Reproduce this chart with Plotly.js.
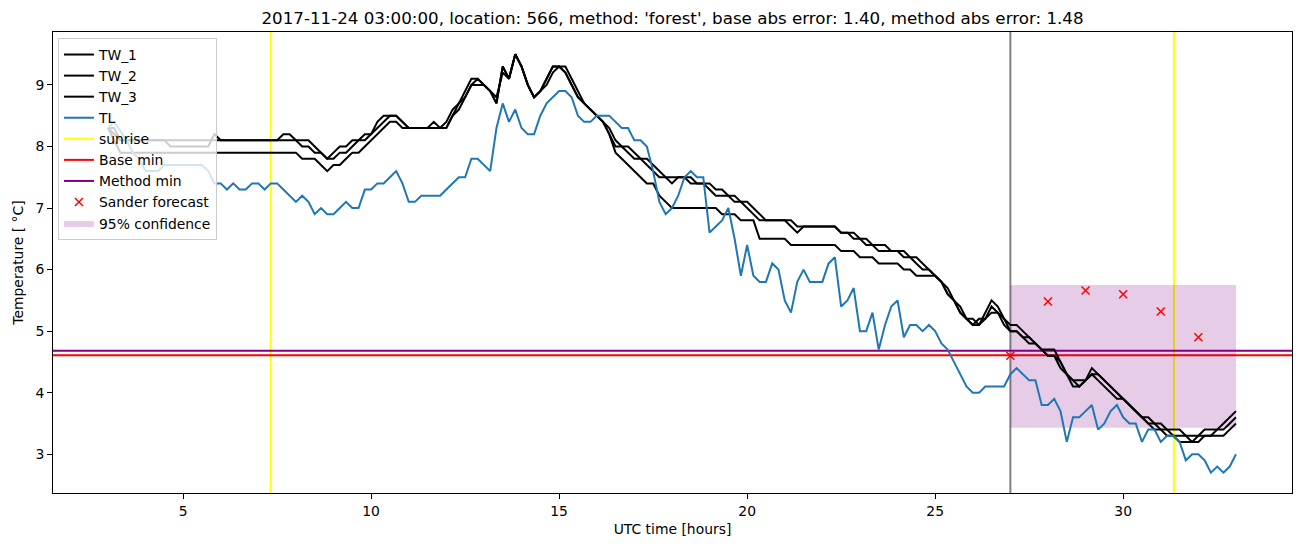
<!DOCTYPE html>
<html>
<head>
<meta charset="utf-8">
<script src="https://cdn.plot.ly/plotly-3.0.1.min.js"></script>
<style>html,body{margin:0;padding:0;background:#fff;}#chart{width:1302px;height:547px;}</style>
</head>
<body>
<div id="chart"></div>
<script>
// ---- data ----
const startHour = 3;          // first sample, UTC hours
const stepHours = 1 / 6;      // 10-minute samples

const TL = [
8.3,8.4,8.25,8.1,7.9,7.8,7.6,7.6,7.6,7.7,
7.7,7.7,7.7,7.7,7.7,7.7,7.6,7.4,7.4,7.3,
7.4,7.3,7.3,7.4,7.4,7.3,7.4,7.4,7.3,7.2,
7.1,7.2,7.1,6.9,7.0,6.9,6.9,7.0,7.1,7.0,
7.0,7.3,7.3,7.4,7.4,7.5,7.6,7.4,7.1,7.1,
7.2,7.2,7.2,7.2,7.3,7.4,7.5,7.5,7.8,7.8,
7.7,7.6,8.3,8.7,8.4,8.6,8.3,8.2,8.2,8.5,
8.7,8.8,8.9,8.9,8.8,8.5,8.4,8.4,8.5,8.5,
8.5,8.4,8.3,8.3,8.1,8.1,8.0,7.6,7.1,6.9,
7.0,7.2,7.5,7.6,7.5,7.5,6.6,6.7,6.8,7.0,
6.5,5.9,6.4,5.9,5.8,5.8,6.1,6.0,5.5,5.3,
5.8,6.0,5.8,5.8,5.8,6.1,6.2,5.4,5.5,5.7,
5.0,5.0,5.3,4.7,5.1,5.4,5.5,4.9,5.1,5.1,
5.0,5.1,5.0,4.8,4.7,4.5,4.3,4.1,4.0,4.0,
4.1,4.1,4.1,4.1,4.3,4.4,4.3,4.2,4.2,3.8,
3.8,3.9,3.7,3.2,3.6,3.6,3.7,3.8,3.4,3.5,
3.7,3.8,3.6,3.5,3.5,3.2,3.4,3.4,3.2,3.3,
3.3,3.2,2.9,3.0,3.0,2.9,2.7,2.8,2.7,2.8,
3.0];

const TW_1 = [
8.3,8.3,8.1,8.1,8.1,8.1,8.1,8.1,8.1,8.1,
8.1,8.1,8.1,8.1,8.1,8.1,8.1,8.1,8.1,8.1,
8.1,8.1,8.1,8.1,8.1,8.1,8.1,8.1,8.2,8.2,
8.1,8.1,8.1,8.0,7.9,7.8,7.9,8.0,8.0,8.1,
8.1,8.2,8.2,8.4,8.5,8.5,8.5,8.4,8.3,8.3,
8.3,8.3,8.3,8.3,8.4,8.6,8.7,8.9,9.1,9.1,
9.0,8.9,8.7,9.3,9.1,9.5,9.3,9.0,8.8,8.9,
9.1,9.3,9.3,9.2,9.0,8.8,8.7,8.6,8.5,8.4,
8.2,8.0,8.0,7.9,7.8,7.8,7.7,7.6,7.5,7.5,
7.4,7.5,7.5,7.4,7.4,7.4,7.3,7.2,7.2,7.2,
7.1,7.1,7.0,6.9,6.8,6.8,6.8,6.8,6.8,6.7,
6.6,6.7,6.7,6.7,6.7,6.7,6.7,6.6,6.6,6.5,
6.5,6.4,6.4,6.3,6.3,6.3,6.3,6.2,6.2,6.1,
6.0,6.0,5.9,5.8,5.6,5.5,5.3,5.2,5.1,5.1,
5.3,5.5,5.4,5.2,5.1,5.1,5.0,4.9,4.8,4.7,
4.7,4.7,4.5,4.3,4.2,4.2,4.2,4.4,4.3,4.2,
4.1,4.0,3.9,3.8,3.7,3.6,3.5,3.5,3.4,3.4,
3.4,3.4,3.3,3.3,3.3,3.4,3.4,3.4,3.5,3.6,
3.7];

const TW_2 = [
8.3,8.2,8.1,8.1,8.1,8.1,8.1,8.1,8.1,8.1,
8.0,8.0,8.0,8.0,8.0,8.0,8.0,8.2,8.1,8.1,
8.1,8.1,8.1,8.1,8.1,8.1,8.1,8.1,8.1,8.1,
8.1,8.0,8.0,7.9,7.9,7.8,7.8,7.9,7.9,8.0,
8.1,8.1,8.2,8.3,8.4,8.5,8.5,8.4,8.3,8.3,
8.3,8.3,8.4,8.3,8.3,8.5,8.7,8.8,9.0,9.1,
9.0,8.9,8.8,9.2,9.1,9.5,9.3,9.0,8.8,8.9,
9.1,9.3,9.3,9.3,9.1,8.9,8.7,8.6,8.5,8.4,
8.3,8.1,8.0,8.0,7.9,7.8,7.8,7.7,7.6,7.5,
7.5,7.5,7.5,7.5,7.4,7.4,7.4,7.3,7.3,7.2,
7.2,7.1,7.1,7.0,6.9,6.8,6.8,6.8,6.8,6.8,
6.7,6.7,6.7,6.7,6.7,6.7,6.7,6.6,6.6,6.6,
6.5,6.5,6.4,6.4,6.4,6.3,6.3,6.3,6.2,6.2,
6.1,6.0,5.9,5.8,5.7,5.5,5.4,5.2,5.2,5.1,
5.2,5.4,5.3,5.2,5.0,5.0,4.9,4.9,4.8,4.7,
4.6,4.6,4.5,4.3,4.2,4.1,4.2,4.3,4.3,4.2,
4.1,4.0,3.9,3.8,3.7,3.6,3.6,3.5,3.5,3.4,
3.3,3.3,3.3,3.2,3.2,3.3,3.3,3.4,3.4,3.5,
3.6];

const TW_3 = [
8.3,8.1,7.9,7.9,7.9,7.9,7.9,7.9,7.9,7.9,
7.9,7.9,7.9,7.9,7.9,7.9,7.9,7.9,7.9,7.9,
7.9,7.9,7.9,7.9,7.9,7.9,7.9,7.9,7.9,7.9,
7.9,7.8,7.8,7.8,7.7,7.6,7.7,7.7,7.8,7.9,
7.9,8.0,8.1,8.2,8.3,8.4,8.4,8.3,8.3,8.3,
8.3,8.3,8.3,8.3,8.3,8.5,8.6,8.8,9.0,9.0,
9.0,8.9,8.7,9.3,9.1,9.5,9.3,9.0,8.8,8.9,
9.0,9.2,9.3,9.2,9.0,8.8,8.7,8.6,8.5,8.4,
8.2,7.9,7.8,7.7,7.6,7.5,7.4,7.4,7.2,7.1,
7.0,7.0,7.0,7.0,7.0,7.0,7.0,7.0,6.9,6.9,
6.9,6.8,6.8,6.8,6.5,6.5,6.5,6.5,6.5,6.4,
6.4,6.4,6.4,6.4,6.4,6.4,6.4,6.3,6.3,6.3,
6.2,6.2,6.2,6.1,6.1,6.1,6.1,6.0,6.0,5.9,
5.9,5.9,5.9,5.8,5.6,5.5,5.3,5.2,5.1,5.2,
5.2,5.3,5.3,5.1,5.0,5.0,4.9,4.8,4.8,4.7,
4.6,4.6,4.4,4.3,4.1,4.1,4.2,4.3,4.2,4.1,
4.0,3.9,3.9,3.8,3.7,3.6,3.5,3.4,3.4,3.3,
3.3,3.2,3.2,3.2,3.3,3.3,3.3,3.3,3.3,3.4,
3.5];

const sunriseHours = [7.33, 31.35];
const forecastHour = 27;
const baseMin = 4.61;
const methodMin = 4.68;
const forecastHours = [27, 28, 29, 30, 31, 32];
const forecastTemps = [4.60, 5.48, 5.66, 5.60, 5.32, 4.90];
const confStart = 27, confEnd = 33;
const confLow = 3.43, confHigh = 5.75;

const xTicks = [5, 10, 15, 20, 25, 30];
const yTicks = [3, 4, 5, 6, 7, 8, 9];

// ---- build ----
const hours = TL.map((_, i) => startHour + i * stepHours);
const xRange = [1.54, 34.49];
const yRange = [2.37, 9.86];
const LW = 2;

const lineTrace = (y, name, color, rank) => ({
  x: hours, y: y, name: name, type: 'scatter', mode: 'lines',
  line: {color: color, width: LW}, legendrank: rank
});

const data = [
  {x: [confStart, confEnd, confEnd, confStart, confStart],
   y: [confLow, confLow, confHigh, confHigh, confLow],
   type: 'scatter', mode: 'lines', fill: 'toself',
   fillcolor: 'rgba(128,0,128,0.2)', line: {width: 0, color: 'rgba(0,0,0,0)'},
   name: '95% confidence', legendrank: 9, hoverinfo: 'skip'},
  lineTrace(TW_1, 'TW_1', '#000000', 1),
  lineTrace(TW_2, 'TW_2', '#000000', 2),
  lineTrace(TW_3, 'TW_3', '#000000', 3),
  lineTrace(TL, 'TL', '#1f77b4', 4),
  {x: [null], y: [null], type: 'scatter', mode: 'lines', name: 'sunrise',
   line: {color: '#ffff00', width: LW}, legendrank: 5},
  {x: [null], y: [null], type: 'scatter', mode: 'lines', name: 'Base min',
   line: {color: '#ff0000', width: LW}, legendrank: 6},
  {x: [null], y: [null], type: 'scatter', mode: 'lines', name: 'Method min',
   line: {color: '#800080', width: LW}, legendrank: 7},
  {x: forecastHours, y: forecastTemps, type: 'scatter', mode: 'markers',
   name: 'Sander forecast', legendrank: 8,
   marker: {symbol: 'x-thin', size: 8, color: '#ff0000', line: {color: '#ff0000', width: 1.5}}}
];

const shapes = [];
sunriseHours.forEach(h => shapes.push({type: 'line', xref: 'x', yref: 'paper',
  x0: h, x1: h, y0: 0, y1: 1, line: {color: '#ffff00', width: LW}, layer: 'below'}));
shapes.push({type: 'line', xref: 'x', yref: 'paper', x0: forecastHour, x1: forecastHour,
  y0: 0, y1: 1, line: {color: '#808080', width: LW}, layer: 'below'});
shapes.push({type: 'line', xref: 'paper', yref: 'y', x0: 0, x1: 1, y0: baseMin, y1: baseMin,
  line: {color: '#ff0000', width: LW}, layer: 'below'});
shapes.push({type: 'line', xref: 'paper', yref: 'y', x0: 0, x1: 1, y0: methodMin, y1: methodMin,
  line: {color: '#800080', width: LW}, layer: 'below'});

const font = 'DejaVu Sans, sans-serif';
const layout = {
  width: 1302, height: 547,
  margin: {l: 53, r: 10, t: 32, b: 54},
  paper_bgcolor: '#ffffff', plot_bgcolor: '#ffffff',
  font: {family: font, size: 13.9, color: '#000000'},
  title: {text: "2017-11-24 03:00:00, location: 566, method: 'forest', base abs error: 1.40, method abs error: 1.48",
    font: {family: font, size: 16.7, color: '#000000'},
    x: 0.5, xref: 'paper', y: 1 - 18 / 547, yref: 'container', yanchor: 'middle'},
  xaxis: {range: xRange, tickvals: xTicks, ticktext: xTicks.map(String),
    showgrid: false, zeroline: false, showline: true, mirror: true,
    linecolor: '#000000', linewidth: 1, ticks: 'outside', ticklen: 5, tickwidth: 1,
    tickcolor: '#000000', tickfont: {size: 13.9},
    title: {text: 'UTC time [hours]', font: {size: 13.9}, standoff: 6}},
  yaxis: {range: yRange, tickvals: yTicks, ticktext: yTicks.map(String),
    showgrid: false, zeroline: false, showline: true, mirror: true,
    linecolor: '#000000', linewidth: 1, ticks: 'outside', ticklen: 5, tickwidth: 1,
    tickcolor: '#000000', tickfont: {size: 13.9},
    title: {text: 'Temperature [ °C]', font: {size: 13.9}, standoff: 8}},
  shapes: shapes,
  showlegend: true,
  legend: {x: 0.004, y: 0.987, xanchor: 'left', yanchor: 'top',
    bgcolor: 'rgba(255,255,255,0.8)', bordercolor: '#cccccc', borderwidth: 1,
    font: {family: font, size: 13.9}, itemwidth: 30, traceorder: 'normal',
    tracegroupgap: 0}
};

Plotly.newPlot('chart', data, layout, {displayModeBar: false, staticPlot: true});
</script>
</body>
</html>
